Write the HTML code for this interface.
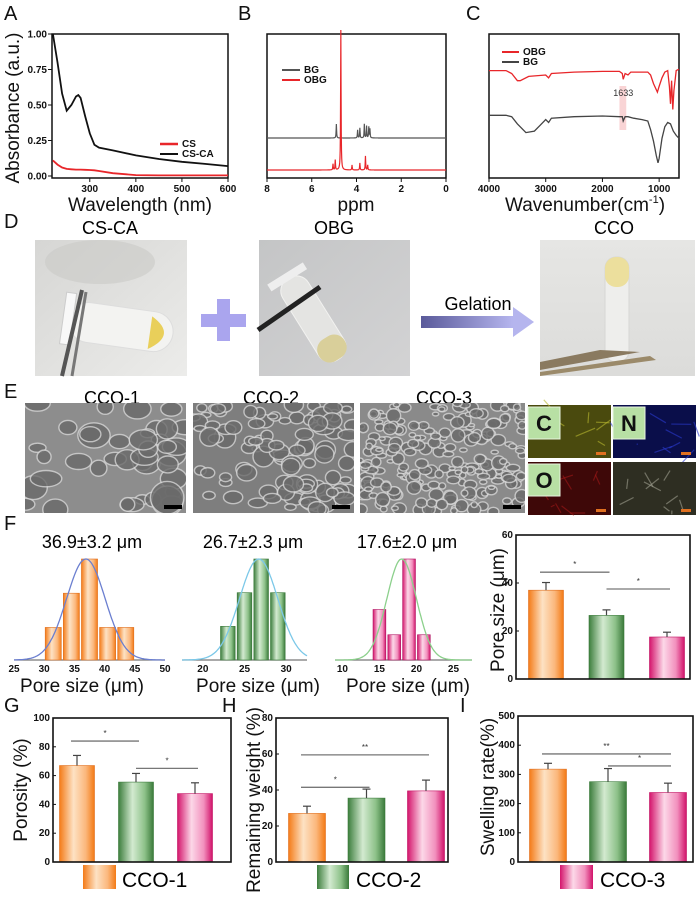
<!DOCTYPE html>
<html><head><meta charset="utf-8">
<style>
html,body{margin:0;padding:0;background:#fff;}
svg{display:block;font-family:"Liberation Sans",Arial,sans-serif;}
.tk{font-size:10px;font-weight:bold;fill:#111;}
.ax{font-size:19px;fill:#111;}
.pl{font-size:20px;fill:#111;}
</style></head>
<body>
<svg id="fig" width="700" height="899" viewBox="0 0 700 899">
<defs>
<linearGradient id="gO" x1="0" x2="1" y1="0" y2="0"><stop offset="0" stop-color="#f47b18"/><stop offset="0.4" stop-color="#fde2c4"/><stop offset="0.75" stop-color="#fbb77c"/><stop offset="1" stop-color="#f37a15"/></linearGradient>
<linearGradient id="gG" x1="0" x2="1" y1="0" y2="0"><stop offset="0" stop-color="#3d7e3d"/><stop offset="0.4" stop-color="#d3ead0"/><stop offset="0.75" stop-color="#8dc189"/><stop offset="1" stop-color="#3a7a3a"/></linearGradient>
<linearGradient id="gP" x1="0" x2="1" y1="0" y2="0"><stop offset="0" stop-color="#d4156c"/><stop offset="0.4" stop-color="#fcd8e8"/><stop offset="0.75" stop-color="#f290bd"/><stop offset="1" stop-color="#d1126a"/></linearGradient>
<linearGradient id="gArrow" x1="0" x2="1"><stop offset="0" stop-color="#5a5a9a"/><stop offset="1" stop-color="#b5b5ee"/></linearGradient>
<linearGradient id="bg1" x1="0" y1="0" x2="1" y2="1"><stop offset="0" stop-color="#d6d6d4"/><stop offset="1" stop-color="#ececea"/></linearGradient>
<linearGradient id="bg2" x1="0" y1="0" x2="1" y2="1"><stop offset="0" stop-color="#c4c5c6"/><stop offset="1" stop-color="#d3d3d4"/></linearGradient>
<linearGradient id="bg3" x1="0" y1="0" x2="0" y2="1"><stop offset="0" stop-color="#e6e6e4"/><stop offset="1" stop-color="#dcdcda"/></linearGradient>
</defs>

<text class="pl" x="4" y="20">A</text>
<text class="pl" x="238" y="20">B</text>
<text class="pl" x="466" y="20">C</text>
<text class="pl" x="4" y="228">D</text>
<text class="pl" x="4" y="398">E</text>
<text class="pl" x="4" y="530">F</text>
<text class="pl" x="4" y="712">G</text>
<text class="pl" x="222" y="712">H</text>
<text class="pl" x="460" y="712">I</text>

<g>
<rect x="35" y="240" width="152" height="136" fill="url(#bg1)"/>
<ellipse cx="100" cy="262" rx="55" ry="22" fill="#c9c9c7" opacity="0.6"/>
<g transform="rotate(8 120 330)"><rect x="68" y="307" width="105" height="40" rx="20" fill="#f3f3f1" stroke="#ddd"/><path d="M150 312 Q178 327 150 345 Z" fill="#e9cf5a"/><rect x="62" y="300" width="10" height="52" fill="#f8f8f8" stroke="#ccc"/></g>
<line x1="82" y1="290" x2="62" y2="376" stroke="#555" stroke-width="4"/><line x1="86" y1="292" x2="72" y2="376" stroke="#777" stroke-width="3"/>
</g>
<text x="110" y="234" text-anchor="middle" font-size="18">CS-CA</text>
<g><rect x="201" y="314" width="45" height="13" fill="#aaa5ee"/><rect x="217" y="299" width="13" height="42" fill="#aaa5ee"/></g>
<g>
<rect x="259" y="240" width="151" height="136" fill="url(#bg2)"/>
<g transform="rotate(-32 320 320)"><rect x="300" y="268" width="30" height="95" rx="14" fill="#e4e4e2" stroke="#f2f2f0"/><rect x="300" y="338" width="30" height="25" rx="12" fill="#d9cf9a"/><rect x="294" y="262" width="42" height="8" fill="#eee"/></g>
<line x1="258" y1="330" x2="320" y2="287" stroke="#222" stroke-width="5"/>
</g>
<text x="334" y="234" text-anchor="middle" font-size="18">OBG</text>
<g><rect x="421" y="316" width="92" height="12" fill="url(#gArrow)"/><polygon points="513,307 534,322 513,337" fill="#b5b5ee"/></g>
<text x="478" y="310" text-anchor="middle" font-size="18">Gelation</text>
<g>
<rect x="540" y="240" width="155" height="136" fill="url(#bg3)"/>
<rect x="605" y="257" width="24" height="105" rx="11" fill="#eeeeec" stroke="#d7d7d5"/>
<rect x="605" y="257" width="24" height="30" rx="11" fill="#ecdf9d"/>
<polygon points="540,362 600,350 640,352 540,370" fill="#8a7a60"/>
<polygon points="540,372 650,356 656,360 540,376" fill="#9b8a6a"/>
</g>
<text x="614" y="234" text-anchor="middle" font-size="18">CCO</text>

<text x="112" y="404" text-anchor="middle" font-size="18">CCO-1</text>
<text x="271" y="404" text-anchor="middle" font-size="18">CCO-2</text>
<text x="444" y="404" text-anchor="middle" font-size="18">CCO-3</text>
<g id="sem"></g>

<text x="92" y="548" text-anchor="middle" font-size="18">36.9±3.2 μm</text>
<text x="253" y="548" text-anchor="middle" font-size="18">26.7±2.3 μm</text>
<text x="407" y="548" text-anchor="middle" font-size="18">17.6±2.0 μm</text>

<rect x="83" y="865" width="33" height="24" fill="url(#gO)"/>
<text x="122" y="887" font-size="21">CCO-1</text>
<rect x="317" y="865" width="32" height="24" fill="url(#gG)"/>
<text x="356" y="887" font-size="21">CCO-2</text>
<rect x="560" y="865" width="33" height="24" fill="url(#gP)"/>
<text x="600" y="887" font-size="21">CCO-3</text>
</svg>

<script>
const uvWave = [220,230,240,250,260,270,275,280,290,300,310,320,350,400,450,500,550,600];
const uvCSCA = [1.00,0.80,0.58,0.46,0.50,0.56,0.57,0.55,0.42,0.30,0.22,0.20,0.18,0.145,0.12,0.10,0.085,0.07];
const uvCS   = [0.11,0.08,0.06,0.05,0.047,0.045,0.045,0.045,0.044,0.042,0.04,0.035,0.02,0.006,0.004,0.004,0.004,0.004];
const uvXTicks = [300,400,500,600];
const uvYTicks = [0,0.25,0.5,0.75,1.0];
const uvYTickLabels = ['0.00','0.25','0.50','0.75','1.00'];
const nmrBGPeaks  = [[4.9,14],[3.95,8],[3.85,10],[3.65,14],[3.55,12],[3.45,11],[3.4,9]];
const nmrOBGPeaks = [[4.7,140],[4.95,10],[5.05,6],[4.2,5],[3.85,7],[3.6,14],[3.5,5]];
const nmrXTicks = [8,6,4,2,0];
const irOBGWn = [4000,3700,3600,3500,3450,3300,3000,2950,2900,2500,2000,1700,1650,1633,1600,1550,1500,1200,1150,1100,1030,1000,950,900,850,820,800,780,760,740,700,650];
const irOBG   = [69,69,67,62,62,65,66,64,67,68,68.5,68.5,67,63,67,66,68,68,66,60,54,58,64,68,69,58,46,62,42,55,69,70];
const irBGWn  = [4000,3700,3600,3500,3350,3200,3100,3000,2950,2900,2500,2000,1700,1650,1633,1600,1550,1450,1300,1200,1150,1100,1050,1020,1000,950,900,850,800,750,700,650];
const irBG    = [38,38,37,32,26,27,31,35,33,36,37,37.5,37,37,34,37,37,36,35,34,28,20,10,5,8,22,30,33,32,27,24,22];
const irXTicks = [4000,3000,2000,1000];
const h1Bins = [30,33,36,39,42]; const h1Counts = [1,2.05,3.1,1,1];
const h2Bins = [22,24,26,28];    const h2Counts = [1,2,3,2];
const h3Bins = [14,16,18,20];    const h3Counts = [2,1,4,1];
const h1Fit = [36.9,3.2]; const h2Fit = [26.7,2.3]; const h3Fit = [18.0,2.0];
const h1Ticks = [25,30,35,40,45,50]; const h2Ticks = [20,25,30]; const h3Ticks = [10,15,20,25];
const groups = ['CCO-1','CCO-2','CCO-3'];
const poreMean = [37,26.5,17.5];   const poreErr = [3.2,2.3,2.0];
const porosityMean = [67,55.5,47.5]; const porosityErr = [7,6,7.5];
const weightMean = [27,35.5,39.5]; const weightErr = [4,5,6];
const swellMean = [318,275,238];   const swellErr = [20,45,32];
const poreTicks = [0,20,40,60]; const porosityTicks = [0,20,40,60,80,100];
const weightTicks = [0,20,40,60,80]; const swellTicks = [0,100,200,300,400,500];
const poreSig = [[0,1,44.5,'*'],[1,2,37.5,'*']];
const porositySig = [[0,1,84,'*'],[1,2,65,'*']];
const weightSig = [[0,2,59.5,'**'],[0,1,41.5,'*']];
const swellSig = [[0,2,370,'**'],[1,2,329,'*']];

const NS='http://www.w3.org/2000/svg';
const svg=document.getElementById('fig');
function mk(tag, attrs, name, parent){
  const el=document.createElementNS(NS,tag);
  for(const k in attrs) el.setAttribute(k,attrs[k]);
  
  
  (parent||svg).appendChild(el); return el;
}
function tx(x,y,s,attrs,name,parent){ const t=mk('text',Object.assign({x:x,y:y},attrs),name,parent); t.textContent=s; return t; }
function lin(d0,d1,r0,r1){ return v=>r0+(v-d0)/(d1-d0)*(r1-r0); }
function poly(xs,ys,fx,fy){ return xs.map((v,i)=>(i?'L':'M')+fx(v).toFixed(1)+' '+fy(ys[i]).toFixed(1)).join(''); }

(function(){
  const X0=52,X1=228,Y0=34,Y1=178;
  const fx=lin(218,600,X0,X1), fy=lin(0,1,176,34);
  mk('rect',{x:X0,y:Y0,width:X1-X0,height:Y1-Y0,fill:'none',stroke:'#111','stroke-width':1.5},'uv-plot-frame');
  uvXTicks.forEach(t=>{ mk('line',{x1:fx(t),x2:fx(t),y1:Y1,y2:Y1+4,stroke:'#111'},'uv-x-tick'); tx(fx(t),Y1+14,String(t),{class:'tk','text-anchor':'middle'},'uv-x-tick-label'); });
  uvYTicks.forEach((t,i)=>{ mk('line',{x1:X0-4,x2:X0,y1:fy(t),y2:fy(t),stroke:'#111'},'uv-y-tick'); tx(X0-5,fy(t)+3.5,uvYTickLabels[i],{class:'tk','text-anchor':'end'},'uv-y-tick-label'); });
  mk('path',{d:poly(uvWave,uvCSCA,fx,fy),fill:'none',stroke:'#111','stroke-width':1.8},'uv-line-cs-ca');
  mk('path',{d:poly(uvWave,uvCS,fx,fy),fill:'none',stroke:'#e8262a','stroke-width':1.8},'uv-line-cs');
  mk('line',{x1:160,x2:178,y1:144,y2:144,stroke:'#e8262a','stroke-width':2.5},'legend-line-cs');
  tx(182,147,'CS',{class:'tk','font-size':9},'legend-label-cs');
  mk('line',{x1:160,x2:178,y1:154,y2:154,stroke:'#111','stroke-width':2},'legend-line-cs-ca');
  tx(182,157,'CS-CA',{class:'tk','font-size':9},'legend-label-cs-ca');
  tx(140,211,'Wavelength (nm)',{class:'ax','text-anchor':'middle'},'uv-x-axis-title');
  tx(0,0,'Absorbance (a.u.)',{class:'ax','text-anchor':'middle',transform:'translate(19,108) rotate(-90)'},'uv-y-axis-title');
})();

(function(){
  const X0=267,X1=446,Y0=34,Y1=178;
  const fx=lin(8,0,X0,X1);
  mk('rect',{x:X0,y:Y0,width:X1-X0,height:Y1-Y0,fill:'none',stroke:'#111','stroke-width':1.5},'nmr-plot-frame');
  nmrXTicks.forEach(t=>{ mk('line',{x1:fx(t),x2:fx(t),y1:Y1,y2:Y1+4,stroke:'#111'},'nmr-x-tick'); tx(fx(t),Y1+14,String(t),{class:'tk','text-anchor':'middle'},'nmr-x-tick-label'); });
  function spec(peaks,base){
    let d='';
    for(let p=8;p>=-0.0001;p-=0.01){
      let h=0; peaks.forEach(pk=>{ const w=0.012; h+=pk[1]*w*w/((p-pk[0])*(p-pk[0])+w*w); });
      d+=(d?'L':'M')+fx(p).toFixed(2)+' '+(base-h).toFixed(2);
    }
    return d;
  }
  mk('path',{d:spec(nmrBGPeaks,138),fill:'none',stroke:'#555','stroke-width':1.2},'nmr-line-bg');
  mk('path',{d:spec(nmrOBGPeaks,170),fill:'none',stroke:'#e8262a','stroke-width':1.2},'nmr-line-obg');
  mk('line',{x1:282,x2:300,y1:70,y2:70,stroke:'#555','stroke-width':2},'legend-line-bg');
  tx(304,73,'BG',{class:'tk','font-size':9},'legend-label-bg');
  mk('line',{x1:282,x2:300,y1:80,y2:80,stroke:'#e8262a','stroke-width':2},'legend-line-obg');
  tx(304,83,'OBG',{class:'tk','font-size':9},'legend-label-obg');
  tx(356,211,'ppm',{class:'ax','text-anchor':'middle'},'nmr-x-axis-title');
})();

(function(){
  const X0=489,X1=679,Y0=34,Y1=178;
  const fx=lin(4000,650,X0,X1), fy=lin(0,100,170,26);
  mk('rect',{x:X0,y:Y0,width:X1-X0,height:Y1-Y0,fill:'none',stroke:'#111','stroke-width':1.5},'ir-plot-frame');
  mk('rect',{x:fx(1700),y:86,width:fx(1580)-fx(1700),height:44,fill:'#f8c9cb',opacity:0.8},'ir-highlight-1633');
  tx(fx(1633),96,'1633',{'font-size':9,fill:'#333','text-anchor':'middle'},'ir-annotation-1633');
  irXTicks.forEach(t=>{ mk('line',{x1:fx(t),x2:fx(t),y1:Y1,y2:Y1+4,stroke:'#111'},'ir-x-tick'); tx(fx(t),Y1+14,String(t),{class:'tk','text-anchor':'middle'},'ir-x-tick-label'); });
  mk('path',{d:poly(irOBGWn,irOBG,fx,fy),fill:'none',stroke:'#e8262a','stroke-width':1.3},'ir-line-obg');
  mk('path',{d:poly(irBGWn,irBG,fx,fy),fill:'none',stroke:'#444','stroke-width':1.3},'ir-line-bg');
  mk('line',{x1:502,x2:519,y1:52,y2:52,stroke:'#e8262a','stroke-width':2},'legend-line-obg-ir');
  tx(523,55,'OBG',{class:'tk','font-size':9},'legend-label-obg-ir');
  mk('line',{x1:502,x2:519,y1:62,y2:62,stroke:'#444','stroke-width':2},'legend-line-bg-ir');
  tx(523,65,'BG',{class:'tk','font-size':9},'legend-label-bg-ir');
  const t=mk('text',{x:585,y:211,class:'ax','text-anchor':'middle'},'ir-x-axis-title');
  t.innerHTML='Wavenumber(cm<tspan font-size="11" dy="-8">-1</tspan><tspan dy="8">)</tspan>';
})();

(function(){
  const g=document.getElementById('sem');
  let seed=7; function rnd(){ seed=(seed*16807)%2147483647; return seed/2147483647; }
  const imgs=[[25,186,'#8d8d8d',14,'sem-image-cco-1'],[193,354,'#7e7e7e',9,'sem-image-cco-2'],[360,525,'#8a8a8a',6,'sem-image-cco-3']];
  imgs.forEach(im=>{
    const x0=im[0],x1=im[1],y0=403,y1=513;
    const sub=mk('g',{},im[4],g);
    const cp=mk('clipPath',{id:'c'+x0},'sem-clip',sub);
    mk('rect',{x:x0,y:y0,width:x1-x0,height:y1-y0},'sem-clip-rect',cp);
    mk('rect',{x:x0,y:y0,width:x1-x0,height:y1-y0,fill:im[2]},'sem-background',sub);
    const gg=mk('g',{'clip-path':'url(#c'+x0+')'},'sem-texture',sub);
    const n=Math.round((x1-x0)*(y1-y0)/(im[3]*im[3]*2.2));
    for(let i=0;i<n;i++){
      const cx=x0+rnd()*(x1-x0), cy=y0+rnd()*(y1-y0), r=im[3]*(0.5+rnd()*0.7);
      mk('ellipse',{cx:cx,cy:cy,rx:r,ry:r*(0.5+rnd()*0.5),fill:'#6a6a6a',stroke:'#d4d4d4','stroke-width':1.4,opacity:0.8},'sem-pore',gg);
    }
    mk('rect',{x:x1-22,y:y1-8,width:18,height:4,fill:'#000'},'sem-scale-bar',sub);
  });
  const maps=[[528,405,'#4a4a0e','#b8b830','C','eds-map-carbon'],[613,405,'#0a0e4a','#2a3ad0','N','eds-map-nitrogen'],[528,462,'#3e0808','#a01818','O','eds-map-oxygen'],[613,462,'#2e2e22','#a0a090','','eds-map-overlay']];
  maps.forEach(m=>{
    const sub=mk('g',{},m[5],g);
    mk('rect',{x:m[0],y:m[1],width:83,height:53,fill:m[2]},'eds-background',sub);
    for(let i=0;i<10;i++){ const sx=m[0]+rnd()*83, sy=m[1]+rnd()*53;
      mk('line',{x1:sx,y1:sy,x2:sx+(rnd()-0.5)*40,y2:sy+(rnd()-0.5)*30,stroke:m[3],'stroke-width':1.2,opacity:0.6},'eds-streak',sub); }
    mk('rect',{x:m[0]+68,y:m[1]+47,width:10,height:3,fill:'#e07020'},'eds-scale-bar',sub);
    if(m[4]){ mk('rect',{x:m[0],y:m[1]+2,width:32,height:32,fill:'#b8e0a4',stroke:'#e8f4e0'},'eds-label-box',sub);
      tx(m[0]+16,m[1]+26,m[4],{'font-size':22,'font-weight':'bold','text-anchor':'middle',fill:'#111'},'eds-element-label',sub); }
  });
})();

function hist(bins,counts,fit,ticks,dom,ax0,ax1,grad,stroke,fitColor,name){
  const base=660, peakPx=101;
  const fx=lin(dom[0],dom[1],ax0,ax1);
  const maxC=Math.max.apply(null,counts);
  const bw=bins[1]-bins[0];
  const fy=c=>base-c/maxC*peakPx;
  mk('line',{x1:ax0,x2:ax1,y1:base,y2:base,stroke:'#777','stroke-width':1.2},name+'-x-axis');
  ticks.forEach(t=>{ tx(fx(t),base+12,String(t),{class:'tk','font-size':8,'text-anchor':'middle'},name+'-x-tick-label'); });
  bins.forEach((b,i)=>{ mk('rect',{x:fx(b)+1,y:fy(counts[i]),width:fx(b+bw)-fx(b)-2,height:base-fy(counts[i]),fill:grad,stroke:stroke,'stroke-width':0.6},name+'-bar'); });
  const mu=fit[0], sd=fit[1];
  let d='';
  for(let v=dom[0];v<=dom[1]+0.001;v+=(dom[1]-dom[0])/150){
    const y=base-peakPx*Math.exp(-0.5*((v-mu)/sd)*((v-mu)/sd));
    d+=(d?'L':'M')+fx(v).toFixed(1)+' '+y.toFixed(1);
  }
  mk('path',{d:d,fill:'none',stroke:fitColor,'stroke-width':1.3},name+'-fit-curve');
}
hist(h1Bins,h1Counts,h1Fit,h1Ticks,[25,50],14,165,'url(#gO)','#e07020','#6b7fd0','hist-cco-1');
hist(h2Bins,h2Counts,h2Fit,h2Ticks,[17.5,32.5],182,307,'url(#gG)','#3a7a3a','#7cc8e8','hist-cco-2');
hist(h3Bins,h3Counts,h3Fit,h3Ticks,[9,27.5],335,472,'url(#gP)','#b01060','#8cd08c','hist-cco-3');
tx(82,692,'Pore size (μm)',{class:'ax','text-anchor':'middle'},'hist-cco-1-x-axis-title');
tx(258,692,'Pore size (μm)',{class:'ax','text-anchor':'middle'},'hist-cco-2-x-axis-title');
tx(408,692,'Pore size (μm)',{class:'ax','text-anchor':'middle'},'hist-cco-3-x-axis-title');

function bars(cfg){
  const fy=lin(0,cfg.max,cfg.y1,cfg.y0);
  const cx=i=>cfg.x0+cfg.pad+i*cfg.step;
  const grads=['url(#gO)','url(#gG)','url(#gP)'];
  const strokes=['#e07020','#3a7a3a','#c01060'];
  cfg.means.forEach((m,i)=>{
    mk('rect',{x:cx(i)-cfg.bw/2,y:fy(m),width:cfg.bw,height:cfg.y1-fy(m),fill:grads[i],stroke:strokes[i],'stroke-width':0.6},cfg.name+'-bar-'+groups[i].toLowerCase());
    const te=fy(m+cfg.errs[i]);
    mk('line',{x1:cx(i),x2:cx(i),y1:fy(m),y2:te,stroke:'#444','stroke-width':1.2},cfg.name+'-error-bar');
    mk('line',{x1:cx(i)-4,x2:cx(i)+4,y1:te,y2:te,stroke:'#444','stroke-width':1.2},cfg.name+'-error-cap');
  });
  mk('rect',{x:cfg.x0,y:cfg.y0,width:cfg.x1-cfg.x0,height:cfg.y1-cfg.y0,fill:'none',stroke:'#111','stroke-width':1.6},cfg.name+'-frame');
  cfg.ticks.forEach(t=>{ mk('line',{x1:cfg.x0,x2:cfg.x0+3,y1:fy(t),y2:fy(t),stroke:'#111'},cfg.name+'-y-tick');
    tx(cfg.x0-3,fy(t)+3,String(t),{class:'tk','font-size':8.5,'text-anchor':'end'},cfg.name+'-y-tick-label'); });
  cfg.sig.forEach(s=>{
    const a=cx(s[0])-(s[0]===0?6:0), b=cx(s[1])+3, y=fy(s[2]);
    mk('line',{x1:a,x2:b,y1:y,y2:y,stroke:'#777','stroke-width':1.3},cfg.name+'-significance-line');
    tx((a+b)/2,y-5,s[3],{'font-size':8,fill:'#333','text-anchor':'middle'},cfg.name+'-significance-mark');
  });
  tx(0,0,cfg.ylab,{class:'ax','text-anchor':'middle',transform:'translate('+cfg.lx+','+cfg.ly+') rotate(-90)'},cfg.name+'-y-axis-title');
}
bars({name:'pore-size',x0:516,x1:690,y0:535,y1:679,max:60,pad:30,step:60.5,bw:35,means:poreMean,errs:poreErr,ticks:poreTicks,sig:poreSig,ylab:'Pore size (μm)',lx:504,ly:610});
bars({name:'porosity',x0:53,x1:231,y0:718,y1:862,max:100,pad:24,step:59,bw:35,means:porosityMean,errs:porosityErr,ticks:porosityTicks,sig:porositySig,ylab:'Porosity (%)',lx:27,ly:790});
bars({name:'remaining-weight',x0:276,x1:448,y0:718,y1:862,max:80,pad:31,step:59.5,bw:37,means:weightMean,errs:weightErr,ticks:weightTicks,sig:weightSig,ylab:'Remaining weight (%)',lx:260,ly:800});
bars({name:'swelling-rate',x0:518,x1:693,y0:716,y1:862,max:500,pad:30,step:60,bw:37,means:swellMean,errs:swellErr,ticks:swellTicks,sig:swellSig,ylab:'Swelling rate(%)',lx:494,ly:787});
</script>
</body></html>
